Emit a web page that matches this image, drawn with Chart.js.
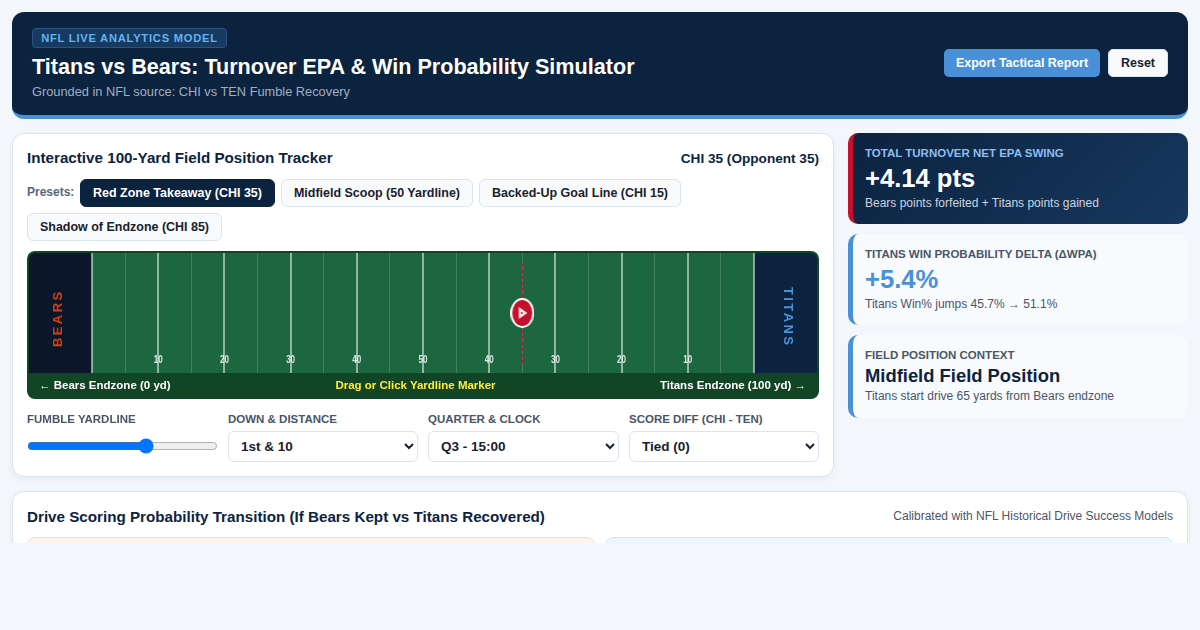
<!DOCTYPE html>
<html lang="en"><head><meta charset="utf-8"><title>Titans vs Bears</title>
<script src="https://cdn.jsdelivr.net/npm/chart.js@4"></script>
<style>
*{box-sizing:border-box}
html,body{margin:0;padding:0;width:1200px;height:630px;overflow:hidden;background:#f3f6fb;font-family:"Liberation Sans",Arial,sans-serif;color:#0c2340}
#clip{position:absolute;left:0;top:0;width:1200px;height:543px;overflow:hidden}
.abs{position:absolute}
header{position:absolute;left:12px;top:12px;width:1176px;height:107px;background:#0c2340;border-bottom:4px solid #4a90d9;border-radius:12px}
.badge{position:absolute;left:20px;top:16px;height:20px;width:195px;border:1px solid #2c5282;border-radius:4px;background:#173a63;color:#63b3ed;font-size:11.2px;font-weight:700;letter-spacing:.75px;line-height:18px;text-align:center;white-space:nowrap}
h1{position:absolute;left:20px;top:40px;margin:0;font-size:21.6px;line-height:30px;font-weight:700;color:#fff;white-space:nowrap}
.sub{position:absolute;left:20px;top:72px;font-size:12.8px;line-height:16px;color:#a0aec0;white-space:nowrap}
.hbtn{position:absolute;top:37px;height:28px;border-radius:5px;font-size:12.48px;font-weight:700;line-height:28px;text-align:center;white-space:nowrap}
.card{position:absolute;background:#fff;border:1px solid #dbe4f0;border-radius:12px;box-shadow:0 2px 6px rgba(12,35,64,.05)}
.ctitle{position:absolute;font-size:15.2px;line-height:20px;font-weight:700;color:#0c2340;white-space:nowrap}
.pill{position:absolute;height:28px;border:1px solid #dbe4f0;background:#f8fafc;border-radius:6px;font-size:12.48px;font-weight:700;line-height:26px;text-align:center;color:#1a202c;white-space:nowrap}
.pill.on{background:#0c2340;border-color:#0c2340;color:#fff}
#field{position:absolute;left:27px;top:251px;width:792px;height:148px;background:#124526;border:2px solid #124526;border-radius:8px;overflow:hidden}
#chartWrap{position:absolute;left:0;top:0;width:788px;height:120px;background:#1c6640}
.zone{position:absolute;top:0;height:120px;width:63px;display:flex;align-items:center;justify-content:center;font-size:13px;font-weight:700;letter-spacing:2.4px;writing-mode:vertical-rl}
.fbar{position:absolute;top:120px;height:24px;line-height:25px;font-size:11.5px;font-weight:700;white-space:nowrap}
.lbl{position:absolute;top:412px;font-size:11.5px;line-height:14px;font-weight:700;color:#4a5568;white-space:nowrap}
select{position:absolute;top:431px;height:31px;border:1px solid #dbe4f0;border-radius:6px;background:#fff;padding:0 8px;font:700 13.5px "Liberation Sans",Arial,sans-serif;color:#1a202c}
input[type=range]{position:absolute;left:27px;top:438px;width:191px;height:16px;margin:0}
.stat{position:absolute;left:848px;width:340px;border-radius:10px;background:#f8fafd;border-left:5px solid #4a90d9;white-space:nowrap}
.stat .t{position:absolute;left:12px;font-size:11.5px;line-height:14px;font-weight:700;color:#4a5568}
.stat .v{position:absolute;left:12px;font-weight:700}
.stat .d{position:absolute;left:12px;font-size:12px;line-height:14px;color:#4a5568}
</style></head><body>
<div id="clip">
<header>
  <div class="badge">NFL LIVE ANALYTICS MODEL</div>
  <h1>Titans vs Bears: Turnover EPA &amp; Win Probability Simulator</h1>
  <div class="sub">Grounded in NFL source: CHI vs TEN Fumble Recovery</div>
  <div class="hbtn" style="left:932px;width:156px;background:#4a90d9;color:#fff">Export Tactical Report</div>
  <div class="hbtn" style="left:1096px;width:60px;background:#f8fafc;color:#1a202c;border:1px solid #dbe4f0;line-height:26px">Reset</div>
</header>

<div class="card" style="left:12px;top:133px;width:822px;height:344px"></div>
<div class="ctitle" style="left:27px;top:148px">Interactive 100-Yard Field Position Tracker</div>
<div class="abs" style="right:381px;top:150px;font-size:13.6px;line-height:17px;font-weight:700;color:#0c2340;white-space:nowrap">CHI 35 (Opponent 35)</div>
<div class="abs" style="left:27px;top:185px;font-size:12px;line-height:14px;font-weight:700;color:#5a6678">Presets:</div>
<div class="pill on" style="left:80px;top:179px;width:195px">Red Zone Takeaway (CHI 35)</div>
<div class="pill" style="left:281px;top:179px;width:192px">Midfield Scoop (50 Yardline)</div>
<div class="pill" style="left:479px;top:179px;width:202px">Backed-Up Goal Line (CHI 15)</div>
<div class="pill" style="left:27px;top:213px;width:195px">Shadow of Endzone (CHI 85)</div>

<div id="field">
  <div id="chartWrap"><canvas id="fieldChart" width="788" height="120"></canvas></div>
  <div class="zone" style="left:-3px;top:5px;color:#d5410b;transform:rotate(180deg)">BEARS</div>
  <div class="zone" style="right:-3px;top:4px;color:#4b92db">TITANS</div>
  <div class="fbar" style="left:10px;color:#fff">← Bears Endzone (0 yd)</div>
  <div class="fbar" style="left:0;width:773px;text-align:center;color:#ffeb3b">Drag or Click Yardline Marker</div>
  <div class="fbar" style="right:11px;color:#fff">Titans Endzone (100 yd) →</div>
</div>

<div class="lbl" style="left:27px">FUMBLE YARDLINE</div>
<div class="lbl" style="left:228px">DOWN &amp; DISTANCE</div>
<div class="lbl" style="left:428px">QUARTER &amp; CLOCK</div>
<div class="lbl" style="left:629px">SCORE DIFF (CHI - TEN)</div>
<input type="range" min="1" max="99" value="63">
<select style="left:228px;width:190px"><option>1st &amp; 10</option></select>
<select style="left:428px;width:191px"><option>Q3 - 15:00</option></select>
<select style="left:629px;width:190px"><option>Tied (0)</option></select>

<div class="stat" style="top:133px;height:91px;background:linear-gradient(135deg,#0c2340,#16385f);border-left-color:#c8102e">
  <div class="t" style="top:13px;color:#90bdf0">TOTAL TURNOVER NET EPA SWING</div>
  <div class="v" style="top:30px;font-size:25.6px;line-height:30px;color:#fff">+4.14 pts</div>
  <div class="d" style="top:63px;color:#cbd5e0">Bears points forfeited + Titans points gained</div>
</div>
<div class="stat" style="top:234px;height:91px">
  <div class="t" style="top:13px">TITANS WIN PROBABILITY DELTA (ΔWPA)</div>
  <div class="v" style="top:29px;font-size:25.6px;line-height:32px;color:#4a90d9">+5.4%</div>
  <div class="d" style="top:63px">Titans Win% jumps 45.7% → 51.1%</div>
</div>
<div class="stat" style="top:335px;height:83px">
  <div class="t" style="top:13px">FIELD POSITION CONTEXT</div>
  <div class="v" style="top:29px;font-size:18.4px;line-height:24px;color:#0c2340">Midfield Field Position</div>
  <div class="d" style="top:54px">Titans start drive 65 yards from Bears endzone</div>
</div>

<div class="card" style="left:12px;top:491px;width:1176px;height:100px"></div>
<div class="ctitle" style="left:27px;top:507px">Drive Scoring Probability Transition (If Bears Kept vs Titans Recovered)</div>
<div class="abs" style="right:27px;top:509px;font-size:12px;line-height:14px;color:#4a5568;white-space:nowrap">Calibrated with NFL Historical Drive Success Models</div>
<div class="abs" style="left:27px;top:537px;width:568px;height:60px;background:#fff5f0;border:1px solid #fbd9c9;border-radius:8px"></div>
<div class="abs" style="left:605px;top:537px;width:568px;height:60px;background:#f0f6fd;border:1px solid #d2e2f6;border-radius:8px"></div>
</div>

<script>
// Field axis
const yardTicks = [5,10,15,20,25,30,35,40,45,50,55,60,65,70,75,80,85,90,95];
const yardLabels = {10:"10",20:"20",30:"30",40:"40",50:"50",60:"40",70:"30",80:"20",90:"10"};
const axisMin = -9.52;
const axisMax = 109.52;
const goalYards = [0, 100];
const fumbleYard = 65;
const bearsZone = [axisMin, 0];
const titansZone = [100, axisMax];
const markerSpan = [0.085, 0.915];
const ballHeight = 0.5;

function ball(){
  const c=document.createElement('canvas');c.width=24;c.height=30;
  const g=c.getContext('2d');
  g.fillStyle='#fff';g.beginPath();g.ellipse(12,15,12,15,0,0,Math.PI*2);g.fill();
  g.fillStyle='#c8102e';g.beginPath();g.ellipse(12,15,10,13,0,0,Math.PI*2);g.fill();
  g.fillStyle='#f6eef0';g.beginPath();g.moveTo(8.5,9);g.lineTo(17,15);g.lineTo(8.5,21);g.closePath();g.fill();
  g.fillStyle='#c8102e';g.beginPath();g.arc(11.5,15,1,0,Math.PI*2);g.fill();
  return c;
}
const zoneDs=(xs,color)=>({data:xs.map(x=>({x,y:1})),showLine:true,pointRadius:0,borderWidth:0,backgroundColor:color,fill:'start',order:5});
const goalDs=x=>({data:[{x,y:0},{x,y:1}],showLine:true,pointRadius:0,borderWidth:2,borderColor:'rgba(255,255,255,.52)',order:4});

// Tick labels sit inside the field, squeezed like painted yard numbers.
const insideTicks={id:'insideTicks',afterDatasetsDraw(chart){
  const s=chart.scales.x,g=chart.ctx;
  g.save();
  g.font='700 11.5px "Liberation Sans"';g.fillStyle='rgba(255,255,255,.85)';g.textAlign='center';g.textBaseline='middle';
  s.ticks.forEach((t,i)=>{
    if(!t.label)return;
    g.save();g.translate(s.getPixelForTick(i),chart.chartArea.bottom-13.5);g.scale(.7,1);g.fillText(t.label,0,0);g.restore();
  });
  g.restore();
}};

new Chart(document.getElementById('fieldChart'),{
  type:'scatter',
  plugins:[insideTicks],
  data:{datasets:[
    zoneDs(bearsZone,'#0b162a'),
    zoneDs(titansZone,'#0c2340'),
    ...goalYards.map(goalDs),
    {data:markerSpan.map(y=>({x:fumbleYard,y})),showLine:true,pointRadius:0,borderWidth:2,borderColor:'#c8102e',borderDash:[3,3],order:2},
    {data:[{x:fumbleYard,y:ballHeight}],pointStyle:ball(),pointRadius:15,order:1}
  ]},
  options:{
    responsive:false,animation:false,events:[],
    layout:{padding:0,autoPadding:false},
    plugins:{legend:{display:false},tooltip:{enabled:false}},
    scales:{
      y:{display:false,min:0,max:1},
      x:{type:'linear',min:axisMin,max:axisMax,
        afterBuildTicks:s=>{s.ticks=yardTicks.map(value=>({value}))},
        afterFit:s=>{s.height=0},
        border:{display:false},
        grid:{drawTicks:false,
          color:c=>c.tick&&c.tick.value%10===0?'rgba(255,255,255,.52)':'rgba(255,255,255,.17)',
          lineWidth:c=>c.tick&&c.tick.value%10===0?2:1},
        ticks:{autoSkip:false,maxRotation:0,mirror:true,color:'rgba(0,0,0,0)',
          callback:v=>yardLabels[v]||''}
      }
    }
  }
});
</script>
</body></html>
